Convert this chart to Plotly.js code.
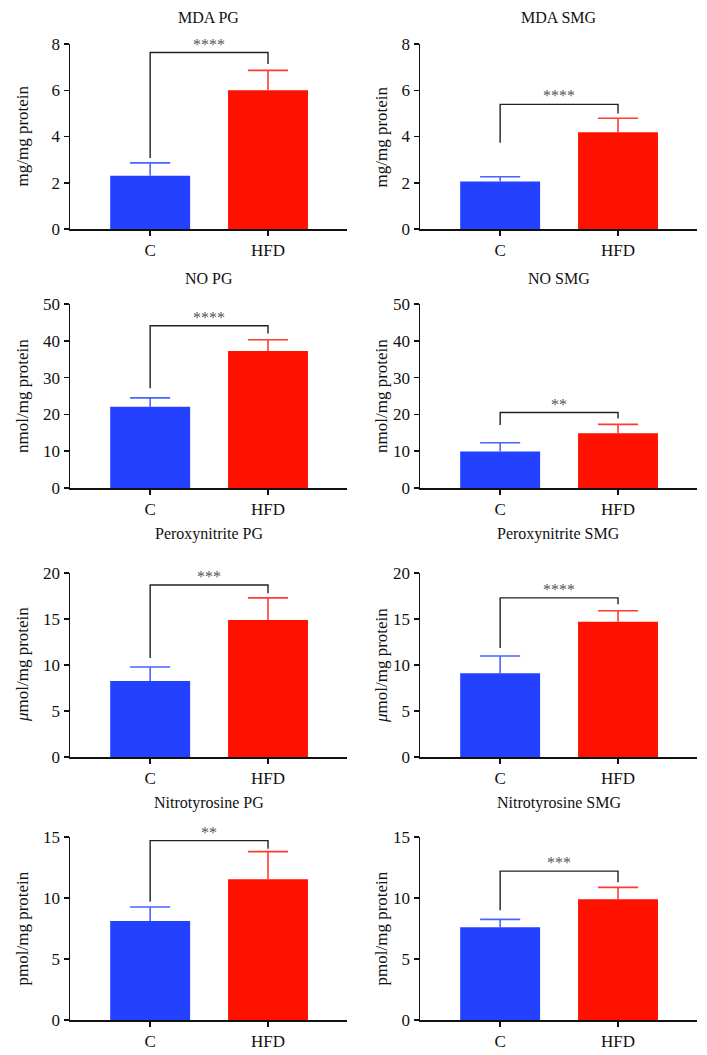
<!DOCTYPE html>
<html>
<head>
<meta charset="utf-8">
<script src="https://cdn.plot.ly/plotly-3.0.1.min.js"></script>
<style>html,body{margin:0;padding:0;background:#fff;}#chart{width:707px;height:1055px;}</style>
</head>
<body>
<div id="chart"></div>
<script>
// ---- data ----
const panelTitles = ["MDA PG", "MDA SMG", "NO PG", "NO SMG", "Peroxynitrite PG", "Peroxynitrite SMG", "Nitrotyrosine PG", "Nitrotyrosine SMG"];
const yLabels = ["mg/mg protein", "mg/mg protein", "nmol/mg protein", "nmol/mg protein", "<i>μ</i>mol/mg protein", "<i>μ</i>mol/mg protein", "pmol/mg protein", "pmol/mg protein"];
const groups = ["C", "HFD"];
const yMax = [8, 8, 50, 50, 20, 20, 15, 15];
const yStep = [2, 2, 10, 10, 5, 5, 5, 5];
const meanC = [2.3, 2.05, 22.1, 9.9, 8.26, 9.1, 8.11, 7.6];
const meanHFD = [6.0, 4.18, 37.2, 14.9, 14.9, 14.7, 11.53, 9.9];
const errC = [0.56, 0.21, 2.4, 2.4, 1.52, 1.88, 1.15, 0.65];
const errHFD = [0.86, 0.61, 3.1, 2.4, 2.4, 1.2, 2.27, 0.97];
const bracketLeft = [3.07, 3.73, 27.1, 17.1, 10.76, 11.85, 9.7, 9.0];
const bracketTop = [7.63, 5.39, 44.1, 20.5, 18.7, 17.3, 14.7, 12.2];
const bracketRight = [7.14, 5.0, 42.0, 18.9, 17.8, 16.6, 14.04, 11.3];
const stars = ["****", "****", "****", "**", "***", "****", "**", "***"];

// ---- layout geometry (pixels) ----
const W = 707, H = 1055;
const colX = [[70, 347], [420, 697]];
const rowY = [[44, 229], [304, 488], [573, 757], [837, 1020]];
const titleY = [17, 278, 534, 803];
const yTitleX = [22, 381];

const FONT = "Liberation Serif, Times New Roman, serif";
const BLUE = "#2441ff", RED = "#ff1100";
const BLUE_ERR = "#4a63ff", RED_ERR = "#ff3b33";
const CAP = 0.17;      // half cap width, in category units
const BAR_W = 0.678;

const traces = [];
const layout = {
  width: W, height: H,
  margin: {l: 0, r: 0, t: 0, b: 0},
  paper_bgcolor: "#fff", plot_bgcolor: "#fff",
  showlegend: false,
  barmode: "overlay",
  font: {family: FONT, size: 16, color: "#111"},
  annotations: []
};

function whisker(pos, mean, err, color, xa, ya) {
  return {
    type: "scatter", mode: "lines", xaxis: xa, yaxis: ya,
    x: [pos, pos, null, pos - CAP, pos + CAP],
    y: [mean, mean + err, null, mean + err, mean + err],
    line: {color: color, width: 1.6}, hoverinfo: "skip"
  };
}

for (let i = 0; i < 8; i++) {
  const col = i % 2, row = Math.floor(i / 2);
  const n = i + 1;
  const xa = "x" + (n === 1 ? "" : n), ya = "y" + (n === 1 ? "" : n);
  const xKey = "xaxis" + (n === 1 ? "" : n), yKey = "yaxis" + (n === 1 ? "" : n);
  const [x0, x1] = colX[col];
  const [yt, yb] = rowY[row];
  const pos = groups.map((g, k) => k);

  layout[xKey] = {
    domain: [x0 / W, x1 / W],
    anchor: ya,
    range: [-0.68, 1.67],
    tickmode: "array", tickvals: pos, ticktext: groups,
    showline: true, linecolor: "#111", linewidth: 1.5,
    ticks: "outside", ticklen: 5, tickwidth: 1.5, tickcolor: "#111",
    showgrid: false, zeroline: false,
    tickfont: {family: FONT, size: 17, color: "#111"},
    fixedrange: true
  };
  const tv = [];
  for (let v = 0; v <= yMax[i] + 1e-9; v += yStep[i]) tv.push(v);
  layout[yKey] = {
    domain: [1 - yb / H, 1 - yt / H],
    anchor: xa,
    range: [0, yMax[i]],
    tickmode: "array", tickvals: tv, ticktext: tv.map(String),
    showline: true, linecolor: "#111", linewidth: 1.5,
    ticks: "outside", ticklen: 5, tickwidth: 1.5, tickcolor: "#111",
    showgrid: false, zeroline: false,
    tickfont: {family: FONT, size: 17, color: "#111"},
    fixedrange: true
  };

  traces.push({
    type: "bar", x: [pos[0]], y: [meanC[i]], xaxis: xa, yaxis: ya,
    width: BAR_W, marker: {color: BLUE, line: {width: 0}}
  });
  traces.push({
    type: "bar", x: [pos[1]], y: [meanHFD[i]], xaxis: xa, yaxis: ya,
    width: BAR_W, marker: {color: RED, line: {width: 0}}
  });
  traces.push(whisker(pos[0], meanC[i], errC[i], BLUE_ERR, xa, ya));
  traces.push(whisker(pos[1], meanHFD[i], errHFD[i], RED_ERR, xa, ya));
  // significance bracket
  traces.push({
    type: "scatter", mode: "lines", xaxis: xa, yaxis: ya,
    x: [pos[0], pos[0], pos[1], pos[1]],
    y: [bracketLeft[i], bracketTop[i], bracketTop[i], bracketRight[i]],
    line: {color: "#222", width: 1.4}, hoverinfo: "skip"
  });
  layout.annotations.push({
    xref: xa, yref: ya, x: (pos[0] + pos[1]) / 2, y: bracketTop[i], yanchor: "bottom", xanchor: "center",
    text: stars[i], showarrow: false, yshift: -2,
    font: {family: FONT, size: 16, color: "#555"}
  });
  // panel title
  layout.annotations.push({
    xref: "paper", yref: "paper", x: ((x0 + x1) / 2) / W, y: 1 - titleY[row] / H,
    xanchor: "center", yanchor: "middle", text: panelTitles[i], showarrow: false,
    font: {family: FONT, size: 16, color: "#111"}
  });
  // y-axis title
  layout.annotations.push({
    xref: "paper", yref: "paper", x: yTitleX[col] / W, y: 1 - ((yt + yb) / 2) / H,
    xanchor: "center", yanchor: "middle", textangle: -90, text: yLabels[i], showarrow: false,
    font: {family: FONT, size: 17, color: "#111"}
  });
}

Plotly.newPlot("chart", traces, layout, {staticPlot: true, displayModeBar: false});
</script>
</body>
</html>
